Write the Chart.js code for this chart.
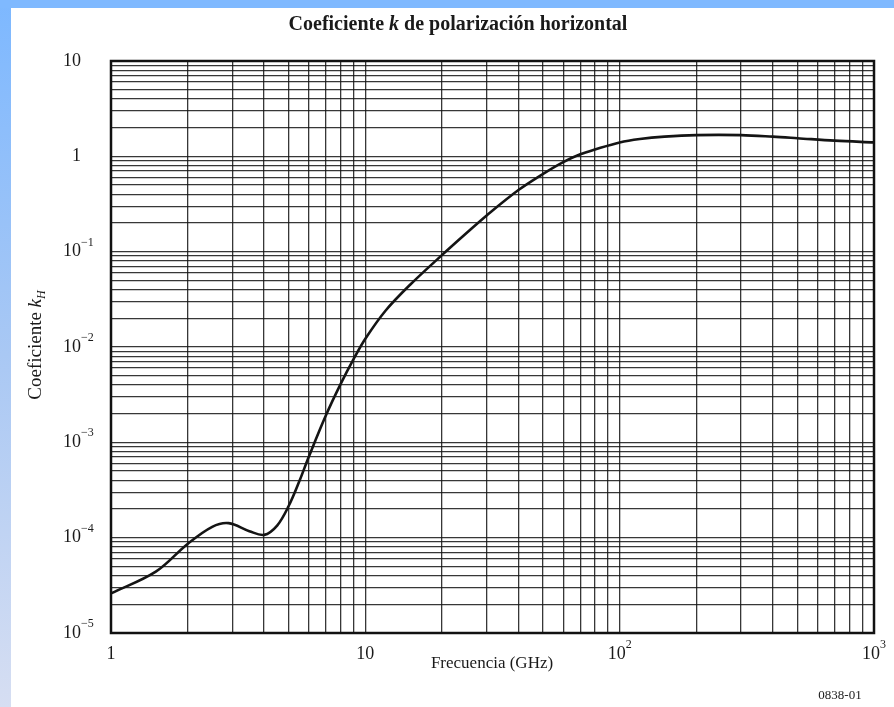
<!DOCTYPE html>
<html>
<head>
<meta charset="utf-8">
<script src="https://cdn.jsdelivr.net/npm/chart.js@4/dist/chart.umd.min.js"></script>
<style>
html,body{margin:0;padding:0;background:#fff;}
#wrap{position:absolute;left:0;top:0;width:894px;height:707px;}
</style>
</head>
<body>
<div id="wrap"><canvas id="c" width="894" height="707"></canvas></div>
<script>
// ---- data ----
const freqGHz = [1, 1.5, 2, 2.5, 2.9, 3.5, 4, 4.5, 5, 5.5, 6, 7, 8, 9, 10, 12, 15, 20, 25, 30, 40, 50, 60, 70, 80, 100, 120, 150, 200, 300, 400, 500, 700, 1000];
const kH = [2.6e-5, 4.4e-5, 8.6e-5, 1.3e-4, 1.42e-4, 1.17e-4, 1.07e-4, 1.34e-4, 2.16e-4, 3.9e-4, 7.1e-4, 1.92e-3, 4.1e-3, 7.5e-3, 1.22e-2, 2.4e-2, 4.5e-2, 9.2e-2, 0.157, 0.24, 0.443, 0.655, 0.87, 1.05, 1.18, 1.40, 1.52, 1.61, 1.67, 1.67, 1.61, 1.55, 1.46, 1.40];
const xTickValues = [1, 10, 100, 1000];
const xTickLabels = [["1", ""], ["10", ""], ["10", "2"], ["10", "3"]];
const yTickValues = [1e-5, 1e-4, 1e-3, 1e-2, 1e-1, 1, 10];
const yTickLabels = [["10", "\u22125"], ["10", "\u22124"], ["10", "\u22123"], ["10", "\u22122"], ["10", "\u22121"], ["1", ""], ["10", ""]];
const titleParts = [["Coeficiente ", false], ["k", true], [" de polarización horizontal", false]];
const xTitle = "Frecuencia (GHz)";
const yTitleMain = "Coeficiente ";
const yTitleK = "k";
const yTitleSub = "H";
const figCode = "0838-01";

const SERIF = '"Liberation Serif", "DejaVu Serif", serif';

function logGrid(minExp, maxExp) {
  const out = [];
  for (let e = minExp; e < maxExp; e++) {
    for (let m = 1; m <= 9; m++) out.push({ value: m * Math.pow(10, e) });
  }
  out.push({ value: Math.pow(10, maxExp) });
  return out;
}

const bgPlugin = {
  id: 'bg',
  beforeDraw(chart) {
    const ctx = chart.ctx;
    ctx.save();
    const g = ctx.createLinearGradient(0, 0, 0, 707);
    g.addColorStop(0, '#7db8ff');
    g.addColorStop(0.5, '#a9c8f4');
    g.addColorStop(1, '#d6def2');
    ctx.fillStyle = g;
    ctx.fillRect(0, 0, 894, 707);
    ctx.fillStyle = '#7fb9ff';
    ctx.fillRect(0, 0, 894, 8);
    ctx.fillStyle = '#ffffff';
    ctx.fillRect(11, 8, 883, 699);
    ctx.restore();
  }
};

const textPlugin = {
  id: 'texts',
  afterDraw(chart) {
    const ctx = chart.ctx;
    const xs = chart.scales.x, ys = chart.scales.y;
    const a = chart.chartArea;
    ctx.save();
    // frame
    ctx.strokeStyle = '#111';
    ctx.lineWidth = 2.5;
    ctx.strokeRect(a.left, a.top, a.right - a.left, a.bottom - a.top);

    ctx.fillStyle = '#1a1a1a';
    ctx.textBaseline = 'middle';
    // y tick labels
    const mainF = '18px ' + SERIF, supF = '12px ' + SERIF;
    yTickValues.forEach((v, i) => {
      const [b, s] = yTickLabels[i];
      const py = ys.getPixelForValue(v);
      ctx.font = mainF;
      const bw = ctx.measureText(b).width;
      ctx.textAlign = 'left';
      const x0 = 81 - bw;
      ctx.fillText(b, x0, py);
      if (s) { ctx.font = supF; ctx.fillText(s, 81, py - 9); }
    });
    // x tick labels
    xTickValues.forEach((v, i) => {
      const [b, s] = xTickLabels[i];
      const px = xs.getPixelForValue(v);
      ctx.font = mainF;
      const bw = ctx.measureText(b).width;
      ctx.font = supF;
      const sw = s ? ctx.measureText(s).width : 0;
      const x0 = px - (bw + sw) / 2;
      ctx.font = mainF;
      ctx.textAlign = 'left';
      ctx.fillText(b, x0, 654);
      if (s) { ctx.font = supF; ctx.fillText(s, x0 + bw, 645); }
    });
    // title
    const tF = 'bold 20px ' + SERIF, tFi = 'italic bold 20px ' + SERIF;
    let tw = 0;
    titleParts.forEach(([t, it]) => { ctx.font = it ? tFi : tF; tw += ctx.measureText(t).width; });
    let tx = 458 - tw / 2;
    ctx.textAlign = 'left';
    titleParts.forEach(([t, it]) => { ctx.font = it ? tFi : tF; ctx.fillText(t, tx, 25); tx += ctx.measureText(t).width; });
    // x title
    ctx.font = '17px ' + SERIF;
    ctx.textAlign = 'center';
    ctx.fillText(xTitle, 492, 664);
    // fig code
    ctx.font = '13px ' + SERIF;
    ctx.fillText(figCode, 840, 696);
    // y title (rotated)
    ctx.translate(36, 345);
    ctx.rotate(-Math.PI / 2);
    const yF = '19px ' + SERIF, yFi = 'italic 19px ' + SERIF, ySub = 'italic 12px ' + SERIF;
    ctx.font = yF; const w1 = ctx.measureText(yTitleMain).width;
    ctx.font = yFi; const w2 = ctx.measureText(yTitleK).width;
    ctx.font = ySub; const w3 = ctx.measureText(yTitleSub).width;
    let yx = -(w1 + w2 + w3) / 2;
    ctx.textAlign = 'left';
    ctx.font = yF; ctx.fillText(yTitleMain, yx, 0); yx += w1;
    ctx.font = yFi; ctx.fillText(yTitleK, yx, 0); yx += w2;
    ctx.font = ySub; ctx.fillText(yTitleSub, yx, 6);
    ctx.restore();
  }
};

new Chart(document.getElementById('c'), {
  type: 'line',
  data: {
    datasets: [{
      data: freqGHz.map((f, i) => ({ x: f, y: kH[i] })),
      borderColor: '#141414',
      borderWidth: 2.6,
      pointRadius: 0,
      fill: false,
      tension: 0.35
    }]
  },
  options: {
    responsive: false,
    animation: false,
    devicePixelRatio: 1,
    layout: { padding: { left: 111, top: 61, right: 20, bottom: 74 } },
    plugins: { legend: { display: false }, tooltip: { enabled: false }, title: { display: false } },
    scales: {
      x: {
        type: 'logarithmic', min: 1, max: 1000,
        afterBuildTicks: s => { s.ticks = logGrid(0, 3); },
        ticks: { display: false },
        grid: { color: 'rgba(20,20,20,0.85)', lineWidth: 1.3, drawTicks: false },
        border: { display: false },
        title: { display: false }
      },
      y: {
        type: 'logarithmic', min: 1e-5, max: 10,
        afterBuildTicks: s => { s.ticks = logGrid(-5, 1); },
        ticks: { display: false },
        grid: { color: 'rgba(20,20,20,0.85)', lineWidth: 1.3, drawTicks: false },
        border: { display: false },
        title: { display: false }
      }
    }
  },
  plugins: [bgPlugin, textPlugin]
});
</script>
</body>
</html>
